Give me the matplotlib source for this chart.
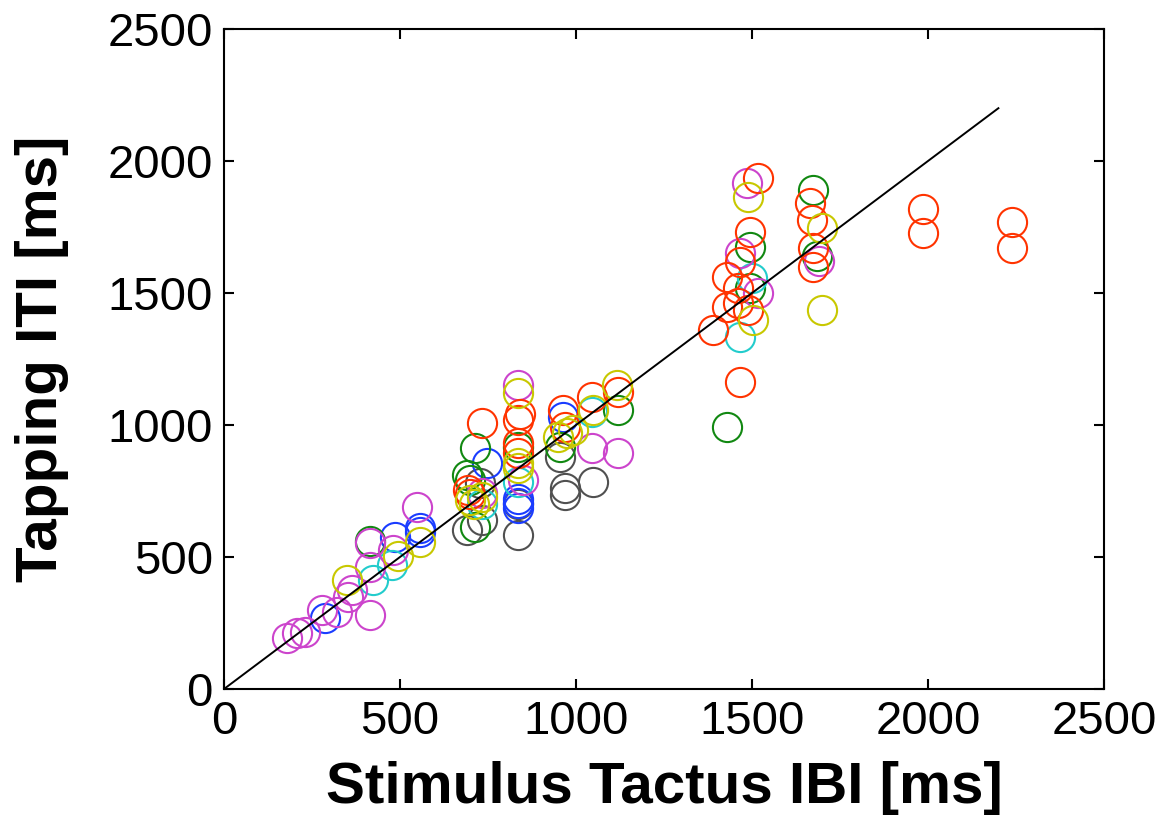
import numpy as np
import matplotlib.pyplot as plt

# Tapping ITI vs stimulus tactus IBI, one colour per group
blue_x = [287, 486, 557, 557, 747, 835, 835, 835, 963]
blue_y = [269, 576, 610, 595, 856, 720, 705, 686, 1030]

green_x = [415, 690, 700, 713, 713, 835, 955, 1119, 1429, 1494, 1494, 1673, 1685]
green_y = [562, 811, 790, 913, 614, 917, 917, 1057, 992, 1674, 1519, 1890, 1640]

cyan_x = [423, 477, 733, 835, 1045, 1466, 1500]
cyan_y = [413, 470, 700, 784, 1050, 1333, 1557]

gray_x = [690, 727, 733, 835, 835, 955, 969, 969, 1048]
gray_y = [602, 780, 640, 583, 700, 879, 761, 735, 784]

red_x = [693, 700, 733, 835, 835, 835, 840, 963, 969, 1045, 1119,
         1389, 1429, 1429, 1460, 1460, 1466, 1466, 1489, 1494, 1517,
         1665, 1670, 1673, 1673, 1986, 1986, 2239, 2239]
red_y = [754, 740, 1008, 1019, 932, 894, 1040, 1057, 992, 1106, 1125,
         1360, 1561, 1447, 1519, 1462, 1617, 1163, 1436, 1731, 1936,
         1841, 1777, 1670, 1598, 1818, 1727, 1769, 1670]

magenta_x = [179, 207, 230, 278, 320, 352, 364, 415, 415, 415, 480, 548,
             733, 835, 850, 1045, 1119, 1466, 1486, 1517, 1690]
magenta_y = [193, 212, 216, 299, 290, 348, 375, 280, 462, 553, 527, 690,
             742, 1152, 790, 913, 894, 1652, 1917, 1500, 1620]

yellow_x = [350, 494, 557, 699, 710, 733, 835, 835, 835, 950, 974, 992,
            1048, 1116, 1489, 1503, 1699, 1699]
yellow_y = [413, 504, 557, 716, 700, 727, 1121, 856, 837, 955, 970, 981,
            1057, 1152, 1864, 1398, 1746, 1436]

groups = [
    (gray_x, gray_y, '#505050'),
    (blue_x, blue_y, '#1a3cff'),
    (green_x, green_y, '#118811'),
    (cyan_x, cyan_y, '#22cccc'),
    (magenta_x, magenta_y, '#cc44cc'),
    (red_x, red_y, '#ff3300'),
    (yellow_x, yellow_y, '#c8c800'),
]

plt.rcParams['font.family'] = ['Liberation Sans', 'DejaVu Sans']

fig = plt.figure(figsize=(11.63, 8.24), dpi=100)
ax = fig.add_axes([224 / 1163, 135 / 824, 880 / 1163, 660 / 824])

for gx, gy, c in groups:
    ax.plot(gx, gy, 'o', mfc='none', mec=c, ms=21, mew=1.5)

# identity line
ax.plot([0, 2200], [0, 2200], 'k-', lw=1.4)

ax.set_xlim(0, 2500)
ax.set_ylim(0, 2500)
ax.set_xticks(np.arange(0, 2501, 500))
ax.set_yticks(np.arange(0, 2501, 500))
ax.tick_params(direction='in', length=7, width=1.5, labelsize=34,
               top=True, right=True, pad=8)
for s in ax.spines.values():
    s.set_linewidth(1.5)

ax.set_xlabel('Stimulus Tactus IBI [ms]', fontsize=42, fontweight='bold', labelpad=12)
ax.set_ylabel('Tapping ITI [ms]', fontsize=42, fontweight='bold', labelpad=28)

fig.savefig('out.png', dpi=100)
